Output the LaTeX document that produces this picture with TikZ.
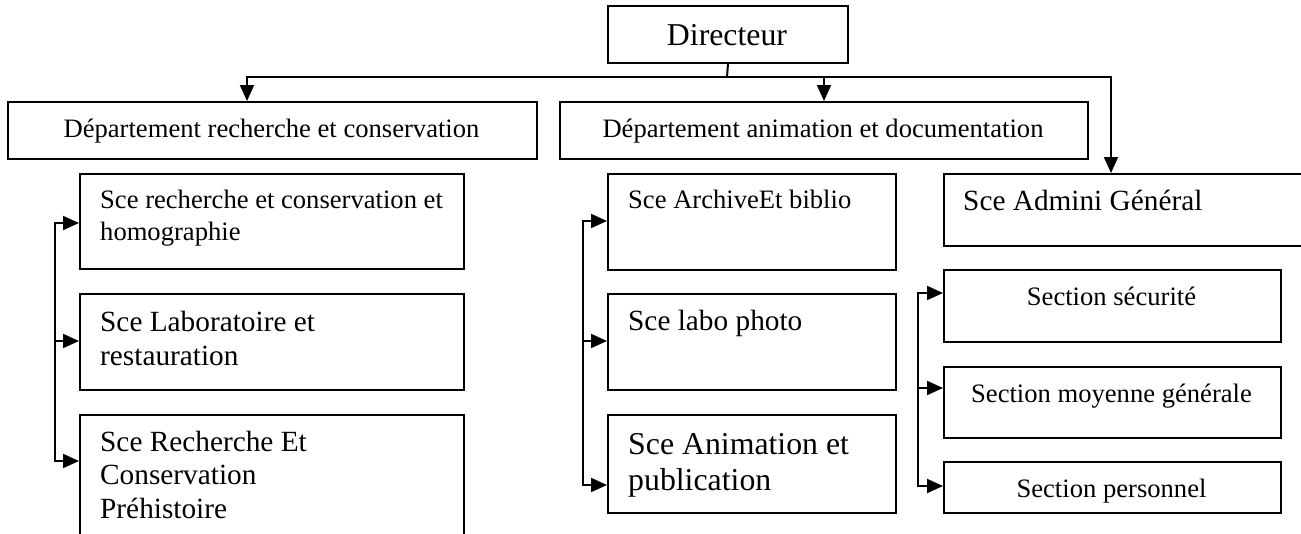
\documentclass[tikz,border=0pt]{standalone}
\usepackage{fontspec}
\setmainfont{Liberation Serif}
\usetikzlibrary{arrows.meta, calc, positioning}
\newcommand{\smallTxt}{\fontsize{26.6}{32}\selectfont}
\newcommand{\medTxt}{\fontsize{29.3}{34.5}\selectfont}
\newcommand{\bigTxt}{\fontsize{31.8}{36}\selectfont}
\tikzstyle{orgBox}=[draw, line width=2pt, rectangle, inner sep=0pt, anchor=north west]
\tikzstyle{orgText}=[inner sep=0pt, align=left, anchor=base west]
\tikzstyle{orgLine}=[line width=2pt]
\tikzstyle{orgArrow}=[line width=2pt, -{Triangle[length=16pt,width=14pt]}]

\begin{document}
\begin{tikzpicture}[x=1pt, y=-1pt]
    \useasboundingbox (0,0) rectangle (1301,533);
    \clip (0,0) rectangle (1301,533);

    % Top Nodes
    \node[orgBox, minimum width=240pt, minimum height=57pt] (dir) at (607,5) {};
    \node[orgText, anchor=base, font=\bigTxt] (dirT) at (727,45) {Directeur};
    \node[orgBox, minimum width=529pt, minimum height=57pt] (dep1) at (7,101) {};
    \node[orgText, anchor=base, font=\smallTxt] (dep1T) at (271.5,137) {Département recherche et conservation};
    \node[orgBox, minimum width=528pt, minimum height=57pt] (dep2) at (559,101) {};
    \node[orgText, anchor=base, font=\smallTxt] (dep2T) at (823,137) {Département animation et documentation};
    \node[orgBox, minimum width=367pt, minimum height=72pt] (adm) at (943,173) {};
    \node[orgText, font=\medTxt] (admT) at (963,210) {Sce Admini Général};

    % Services Recherche (text anchored on last baseline)
    \node[orgBox, minimum width=384pt, minimum height=95pt] (s11) at (79,173) {};
    \node[orgText, font=\smallTxt] (s11T) at (100,240) {Sce recherche et conservation et\\homographie};
    \node[orgBox, minimum width=384pt, minimum height=96pt] (s12) at (79,293) {};
    \node[orgText, font=\medTxt] (s12T) at (100,365.5) {Sce Laboratoire et\\restauration};
    \node[orgBox, minimum width=384pt, minimum height=131pt] (s13) at (79,414) {};
    \node[orgText, font=\fontsize{29.3}{33.5}\selectfont] (s13T) at (100,518) {Sce Recherche Et\\Conservation\\Préhistoire};

    % Services Animation
    \node[orgBox, minimum width=288pt, minimum height=96pt] (s21) at (607,173) {};
    \node[orgText, font=\smallTxt] (s21T) at (628,208) {Sce ArchiveEt biblio};
    \node[orgBox, minimum width=288pt, minimum height=96pt] (s22) at (607,293) {};
    \node[orgText, font=\medTxt] (s22T) at (628,330) {Sce labo photo};
    \node[orgBox, minimum width=288pt, minimum height=98pt] (s23) at (607,414) {};
    \node[orgText, font=\bigTxt] (s23T) at (628,490) {Sce Animation et\\publication};

    % Sections
    \node[orgBox, minimum width=337pt, minimum height=72pt] (s31) at (943,269) {};
    \node[orgText, anchor=base, font=\smallTxt] (s31T) at (1111.5,305) {Section sécurité};
    \node[orgBox, minimum width=337pt, minimum height=71pt] (s32) at (943,366) {};
    \node[orgText, anchor=base, font=\smallTxt] (s32T) at (1111.5,402) {Section moyenne générale};
    \node[orgBox, minimum width=337pt, minimum height=51pt] (s33) at (943,461) {};
    \node[orgText, anchor=base, font=\smallTxt] (s33T) at (1111.5,497) {Section personnel};

    % Directeur Arcs
    \coordinate (hub) at (727,77);
    \coordinate (hubL) at (247,77);
    \coordinate (hubR) at (1111,77);
    \draw[orgLine] (dir.south) -- (hub);
    \draw[orgArrow] (hub) -| (hubL |- dep1.north);
    \draw[orgArrow] (hub) -| (hubR |- adm.north);
    \draw[orgArrow] (dep2.north |- hub) -- (dep2.north);

    % Bracket Arcs
    \coordinate (br1a) at (55,223);
    \coordinate (br1b) at (55,341);
    \coordinate (br1c) at (55,461);
    \draw[orgArrow] (br1c) |- (br1a -| s11.west);
    \draw[orgArrow] (br1a) |- (br1c -| s13.west);
    \draw[orgArrow] (br1b) -- (br1b -| s12.west);

    \coordinate (br2a) at (583,221);
    \coordinate (br2b) at (583,341);
    \coordinate (br2c) at (583,485);
    \draw[orgArrow] (br2c) |- (br2a -| s21.west);
    \draw[orgArrow] (br2a) |- (br2c -| s23.west);
    \draw[orgArrow] (br2b) -- (br2b -| s22.west);

    \coordinate (br3a) at (918,293);
    \coordinate (br3b) at (918,388);
    \coordinate (br3c) at (918,486);
    \draw[orgArrow] (br3c) |- (br3a -| s31.west);
    \draw[orgArrow] (br3a) |- (br3c -| s33.west);
    \draw[orgArrow] (br3b) -- (br3b -| s32.west);

\end{tikzpicture}
\end{document}
